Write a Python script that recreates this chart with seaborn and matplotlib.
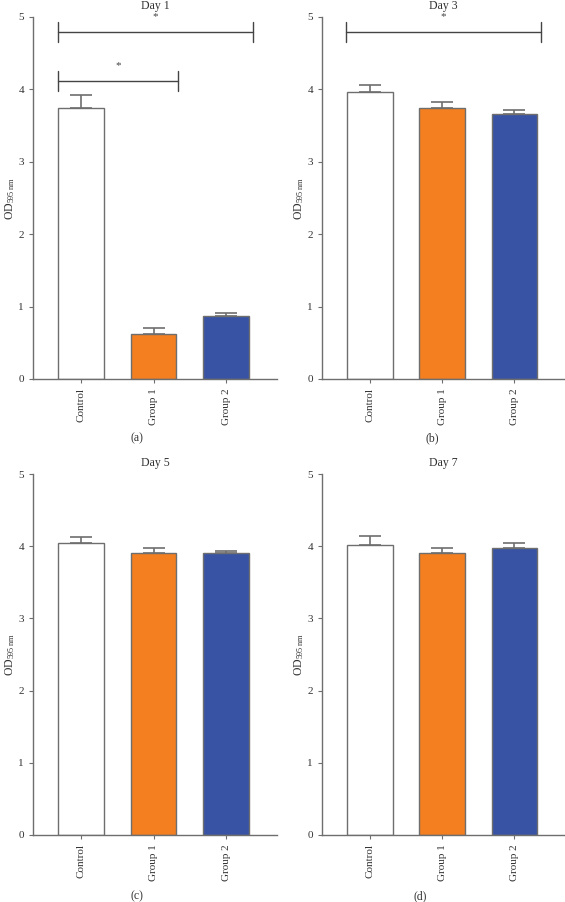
import matplotlib
matplotlib.use('Agg')
import numpy as np
import pandas as pd
import seaborn as sns
import matplotlib.pyplot as plt

# 数据
groups = ['Control', 'Group 1', 'Group 2']
days = ['Day 1', 'Day 3', 'Day 5', 'Day 7']
panel_tags = ['(a)', '(b)', '(c)', '(d)']
day1_mean = [3.75, 0.62, 0.87]
day1_err = [0.17, 0.08, 0.04]
day3_mean = [3.96, 3.74, 3.66]
day3_err = [0.10, 0.08, 0.05]
day5_mean = [4.05, 3.91, 3.90]
day5_err = [0.08, 0.06, 0.03]
day7_mean = [4.01, 3.90, 3.97]
day7_err = [0.13, 0.08, 0.07]
bar_colors = ['#ffffff', '#f47f20', '#3853a4']

# 显著性标记: (面板, x起点, x终点, y)
sig_marks = [(0, -0.32, 2.37, 4.79), (0, -0.32, 1.34, 4.12), (1, -0.33, 2.37, 4.79)]

means = [day1_mean, day3_mean, day5_mean, day7_mean]
errs = [day1_err, day3_err, day5_err, day7_err]

sns.set_style('ticks')
plt.rcParams['font.family'] = ['Liberation Serif', 'DejaVu Serif']
plt.rcParams['mathtext.fontset'] = 'stix'

fig = plt.figure(figsize=(5.65, 9.02), dpi=100)
W, H = 565, 902
# 面板位置 (像素)
boxes = [(33, 17, 277, 379), (322, 17, 565, 379), (33, 474, 277, 835), (322, 474, 565, 835)]
tag_pos = [(137, 438), (432, 438), (137, 896), (420, 896)]

grey = '#6e6e6e'
for i, (l, t, r, b) in enumerate(boxes):
    ax = fig.add_axes([l / W, 1 - b / H, (r - l) / W, (b - t) / H])
    df = pd.DataFrame({'group': groups, 'value': means[i]})
    sns.barplot(data=df, x='group', y='value', hue='group', palette=bar_colors, saturation=1,
                edgecolor=grey, linewidth=1.0, width=0.63, legend=False, ax=ax, zorder=2)
    ax.errorbar(np.arange(3), means[i], yerr=[np.zeros(3), errs[i]], fmt='none',
                ecolor=grey, elinewidth=1.2, capsize=8, capthick=1.2, zorder=1)
    ax.set_xlim(-0.66, 2.70)
    ax.set_ylim(0, 5)
    ax.set_yticks([0, 1, 2, 3, 4, 5])
    ax.set_xlabel('')
    ax.set_ylabel('OD$_{\\mathregular{595\\ nm}}$', fontsize=8.5, color='#333333')
    ax.yaxis.set_label_coords(-16 / (r - l), 0.5)
    ax.tick_params(axis='x', labelrotation=90, labelsize=8, colors=grey, labelcolor='#333333', length=3)
    ax.tick_params(axis='y', labelsize=8, colors=grey, labelcolor='#333333', length=3)
    for s in ['left', 'bottom']:
        ax.spines[s].set_color(grey)
        ax.spines[s].set_linewidth(1.0)
    sns.despine(ax=ax)
    ax.set_title(days[i], fontsize=8.5, color='#333333', pad=6)

    for p, x0, x1, y in sig_marks:
        if p != i:
            continue
        ax.plot([x0, x1], [y, y], color='#444444', lw=1.0, clip_on=False)
        ax.plot([x0, x0], [y - 0.14, y + 0.14], color='#444444', lw=1.0, clip_on=False)
        ax.plot([x1, x1], [y - 0.14, y + 0.14], color='#444444', lw=1.0, clip_on=False)
        ax.text((x0 + x1) / 2, y + 0.15, '*', ha='center', va='bottom', fontsize=8,
                color='#444444', clip_on=False)

    fig.text(tag_pos[i][0] / W, 1 - tag_pos[i][1] / H, panel_tags[i], ha='center', va='center',
             fontsize=8.5, color='#333333')

plt.savefig('out.png', dpi=100)
plt.close()
